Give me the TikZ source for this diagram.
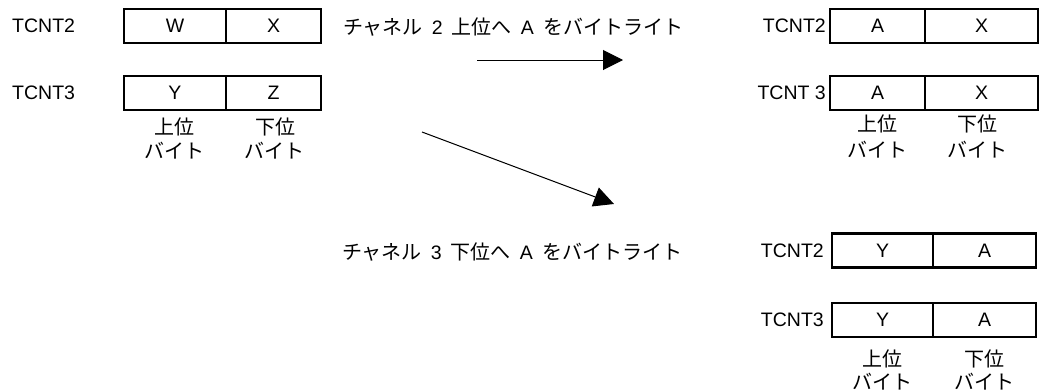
\documentclass[tikz,border=0pt]{standalone}
\usepackage{fontspec}
\setmainfont{Liberation Sans}
\newfontfamily\jp{Noto Sans CJK JP}
\usetikzlibrary{arrows.meta}
\tikzset{
  x=1pt, y=-1pt,
  every node/.style={inner sep=0pt, font=\fontsize{19.5}{21}\selectfont},
  cell/.style={draw, line width=1.5pt, minimum height=34pt},
  cellb/.style={draw, line width=2.4pt, minimum height=34pt},
  jplab/.style={font=\jp\fontsize{20}{22}\selectfont},
  sent/.style={font=\fontsize{19.5}{21}\selectfont},
  arr/.style={line width=1pt, -{Triangle[length=20pt,width=20pt]}}
}
\newcommand{\jj}[1]{{\jp\fontsize{20}{22}\selectfont #1}}
\begin{document}
\begin{tikzpicture}
\useasboundingbox (0,0) rectangle (1039,391);
% left registers
\node[anchor=west] (l2) at (12,26) {TCNT2};
\node[anchor=west] (l3) at (12,93) {TCNT3};
\node[cell, minimum width=102pt] (w) at (175,26) {W};
\node[cell, minimum width=95pt] (x1) at (273.5,26) {X};
\node[cell, minimum width=102pt] (y1) at (175,93) {Y};
\node[cell, minimum width=95pt] (z1) at (273.5,93) {Z};
\node[jplab] (lu) at (174.5,127) {上位};
\node[jplab] (ll) at (275,127) {下位};
\node[jplab] (lub) at (174,151) {バイト};
\node[jplab] (llb) at (274,151) {バイト};
% sentences
\node[sent] (s1) at (513,27) {\makebox[340pt][s]{\jj{チャネル}\hfil 2\hfil\jj{上位へ}\hfil A\hfil\jj{をバイトライト}}};
\node[sent] (s2) at (512,252) {\makebox[340pt][s]{\jj{チャネル}\hfil 3\hfil\jj{下位へ}\hfil A\hfil\jj{をバイトライト}}};
% arrows
\coordinate (a1s) at (477,60);
\coordinate (a1e) at (623,60);
\coordinate (a2s) at (422,132);
\coordinate (a2e) at (614,204);
\draw[arr] (a1s) -- (a1e);
\draw[arr] (a2s) -- (a2e);
% right top registers
\node[anchor=east] (r2) at (826,26) {TCNT2};
\node[anchor=east] (r3) at (826,93) {TCNT 3};
\node[cell, minimum width=95pt] (ra) at (877.5,26) {A};
\node[cell, minimum width=113pt] (rx) at (981.5,26) {X};
\node[cell, minimum width=95pt] (ra3) at (877.5,93) {A};
\node[cell, minimum width=113pt] (rx3) at (981.5,93) {X};
\node[jplab] (ru) at (877.5,124) {上位};
\node[jplab] (rl) at (977,124) {下位};
\node[jplab] (rub) at (877.5,150) {バイト};
\node[jplab] (rlb) at (977,150) {バイト};
% bottom right registers
\node[anchor=east] (b2) at (824,251) {TCNT2};
\node[anchor=east] (b3) at (824,320) {TCNT3};
\node[cellb, minimum width=101pt] (by) at (882.5,250.5) {Y};
\node[cellb, minimum width=103pt] (ba) at (984.5,250.5) {A};
\node[cellb, minimum width=101pt] (by3) at (882.5,320) {Y};
\node[cellb, minimum width=103pt] (ba3) at (984.5,320) {A};
\node[jplab] (bu) at (882,359) {上位};
\node[jplab] (bl) at (984,359) {下位};
\node[jplab] (bub) at (882,382) {バイト};
\node[jplab] (blb) at (984,382) {バイト};
\end{tikzpicture}
\end{document}
